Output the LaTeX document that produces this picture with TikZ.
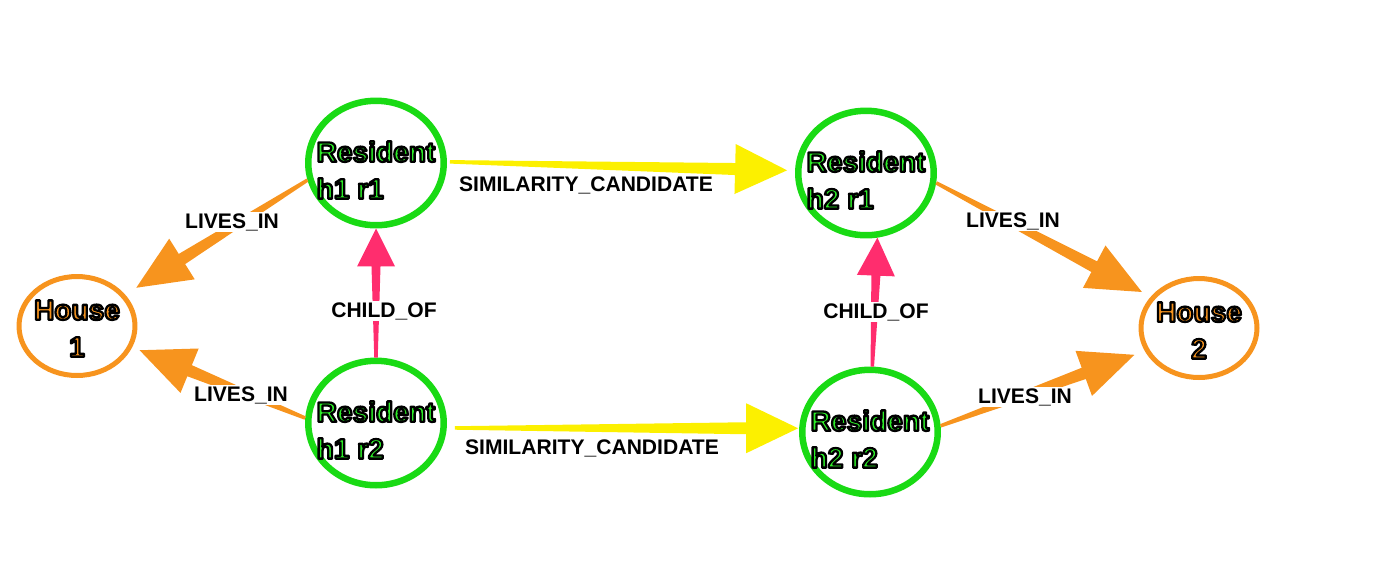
\documentclass[tikz,border=0pt]{standalone}
\usepackage{fontspec}
\setmainfont{Liberation Sans}
\usetikzlibrary{shapes.geometric,calc}

\definecolor{resgreen}{RGB}{25,218,20}
\definecolor{restext}{RGB}{45,238,40}
\definecolor{houseorange}{RGB}{247,148,30}
\definecolor{simyellow}{RGB}{252,240,0}
\definecolor{childpink}{RGB}{255,45,110}

% black outline round the glyphs (fill and stroke text)
\newcommand{\outl}[1]{\special{pdf:literal direct 2 Tr 1.3 w 1 j 0 0 0 RG}#1\special{pdf:literal direct 0 Tr}}

\tikzset{
  resident/.style={ellipse,draw=resgreen,line width=0.13cm,minimum width=2.71cm,minimum height=2.49cm,inner sep=0pt},
  house/.style={ellipse,draw=houseorange,line width=0.1cm,minimum width=2.32cm,minimum height=1.98cm,inner sep=0pt},
  restxt/.style={font=\bfseries\fontsize{16}{21}\selectfont,align=left,text=restext,yshift=-0.14cm},
  housetxt/.style={font=\bfseries\fontsize{16}{21}\selectfont,align=center,text=houseorange,yshift=-0.05cm},
  rellabel/.style={font=\bfseries\fontsize{12}{14}\selectfont,fill=white,inner sep=0.5pt}
}

% tapered arrow: [shaft end] colour, from, to, head length, head half width
\newcommand{\fatarrow}[6][0.12cm]{%
  \coordinate (fa-s) at (#3);
  \coordinate (fa-t) at (#4);
  \coordinate (fa-b) at ($(fa-t)!#5!(fa-s)$);
  \fill[#2] ($(fa-s)!0.035cm!90:(fa-t)$) -- ($(fa-b)!#1!90:(fa-t)$)
    -- ($(fa-b)!#6!90:(fa-t)$) -- (fa-t) -- ($(fa-b)!#6!-90:(fa-t)$)
    -- ($(fa-b)!#1!-90:(fa-t)$) -- ($(fa-s)!0.035cm!-90:(fa-t)$) -- cycle;
}

\begin{document}
\begin{tikzpicture}[x=0.02cm,y=-0.02cm]
\useasboundingbox (0,0) rectangle (1400,583);

\node[house,label={[housetxt]center:\outl{House\\1}}] (h1) at (77,326) {};
\node[house,label={[housetxt]center:\outl{House\\2}}] (h2) at (1199,328) {};
\node[resident,label={[restxt]center:\outl{Resident\\h1 r1}}] (r11) at (376,163) {};
\node[resident,label={[restxt]center:\outl{Resident\\h1 r2}}] (r12) at (376,423) {};
\node[resident,label={[restxt]center:\outl{Resident\\h2 r1}}] (r21) at (866,173) {};
\node[resident,label={[restxt]center:\outl{Resident\\h2 r2}}] (r22) at (870,432) {};

\fatarrow{houseorange}{r11.194}{$(h1.33)!0.26cm!(r11.194)$}{1.08cm}{0.48cm}
\fatarrow{houseorange}{r12.176}{$(h1.-21)!0.16cm!(r12.176)$}{1.08cm}{0.48cm}
\fatarrow{houseorange}{r21.-8}{$(h2.147)!0.2cm!(r21.-8)$}{1.08cm}{0.48cm}
\fatarrow{houseorange}{r22.5}{$(h2.203)!0.22cm!(r22.5)$}{1.08cm}{0.48cm}

\fatarrow{simyellow}{$(r11.1)!0.06cm!(r21.178)$}{$(r21.178)!0.16cm!(r11.1)$}{1.04cm}{0.5cm}
\fatarrow{simyellow}{$(r12.-4)!0.16cm!(r22.177)$}{$(r22.177)!0.02cm!(r12.-4)$}{1.04cm}{0.5cm}

\fatarrow[0.09cm]{childpink}{r12.north}{r11.south}{0.76cm}{0.38cm}
\fatarrow[0.09cm]{childpink}{r22.88}{r21.-80}{0.76cm}{0.38cm}

\node[rellabel] (l1) at (232,222) {LIVES\_IN};
\node[rellabel] (l2) at (241,395) {LIVES\_IN};
\node[rellabel] (l3) at (1013,221) {LIVES\_IN};
\node[rellabel] (l4) at (1025,397) {LIVES\_IN};
\node[rellabel] (s1) at (586,185) {SIMILARITY\_CANDIDATE};
\node[rellabel] (s2) at (592,448) {SIMILARITY\_CANDIDATE};
\node[rellabel] (c1) at (384,311) {CHILD\_OF};
\node[rellabel] (c2) at (876,312) {CHILD\_OF};
\end{tikzpicture}
\end{document}
